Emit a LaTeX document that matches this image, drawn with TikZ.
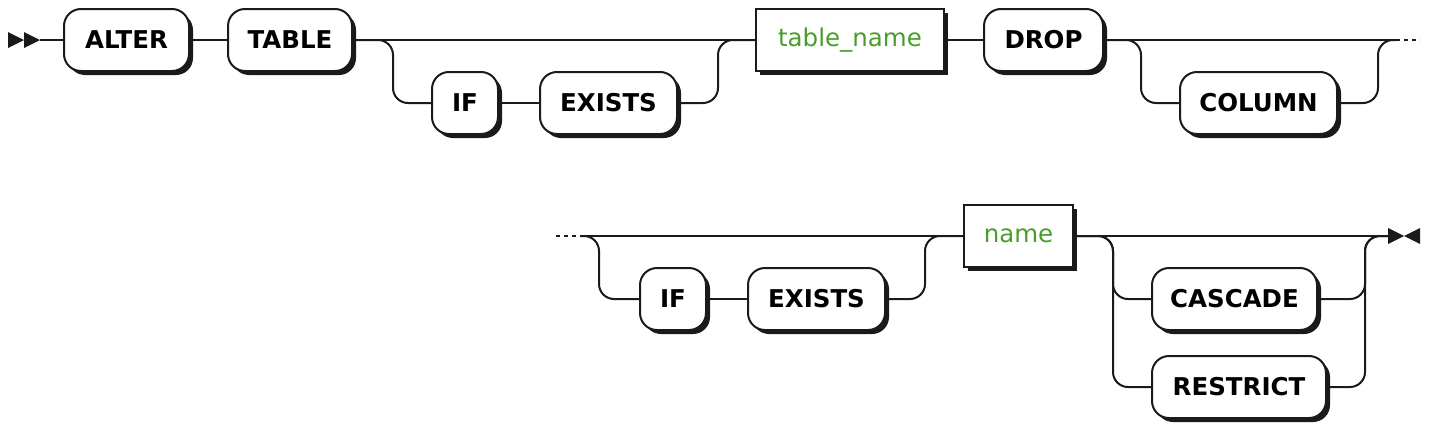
\documentclass[tikz,border=0pt]{standalone}
\usepackage{fontspec}
\setsansfont{DejaVu Sans}
\usetikzlibrary{shadows}
\definecolor{ntgreen}{RGB}{74,157,42}
\definecolor{ink}{RGB}{26,26,26}
\tikzset{
  box/.style={draw=ink,line width=2pt,fill=white,minimum height=62pt,inner sep=0pt,
    font=\sffamily\fontsize{24.5}{29}\selectfont,
    drop shadow={shadow xshift=4pt,shadow yshift=-4pt,opacity=1,fill=ink}},
  kw/.style={box,rounded corners=17pt,font=\sffamily\bfseries\fontsize{24.5}{29}\selectfont},
  nt/.style={box,text=ntgreen},
  rail/.style={draw=ink,line width=2pt,rounded corners=15pt},
  dots/.style={draw=ink,line width=2pt,dash pattern=on 4pt off 4pt}
}
\begin{document}
\begin{tikzpicture}[x=1pt,y=-1pt]
   \useasboundingbox (0,0) rectangle (1432,434);
   \foreach \n/\t/\x/\y/\w in {alter/ALTER/126.5/40/125, table/TABLE/290/40/124,
       if1/IF/465/103/66, exists1/EXISTS/608.5/103/137, drop/DROP/1043.5/40/119,
       column/COLUMN/1258.5/103/157, if2/IF/673/299/66, exists2/EXISTS/816.5/299/137,
       cascade/CASCADE/1234.5/299/165, restrict/RESTRICT/1239/387/174}
     \node[kw,minimum width=\w pt] (\n) at (\x,\y) {\t};
   \node[nt,minimum width=188pt] (tname) at (850,40) {table\_name};
   \node[nt,minimum width=109pt] (name) at (1018.5,236) {name};
   \coordinate (start) at (40,40);
   \coordinate (cont1) at (1396,40);
   \coordinate (cont2) at (580,236);
   \coordinate (stop) at (1388,236);
   \fill[ink] (8,32) -- (24,40) -- (8,48) -- cycle (24,32) -- (start) -- (24,48) -- cycle;
   \fill[ink] (stop) ++(0,-8) -- ++(16,8) -- ++(-16,8) -- cycle;
   \fill[ink] (1404,236) -- (1420,228) -- (1420,244) -- cycle;
   \draw[rail] (start) -- (alter);
   \draw[rail] (alter) -- (table);
   \draw[rail] (table.east) -- (tname.west);
   \draw[rail] (table.east) -- ++(40,0) |- (if1.west);
   \draw[rail] (if1) -- (exists1);
   \draw[rail] (exists1.east) -- ++(40,0) |- (tname.west);
   \draw[rail] (tname) -- (drop);
   \draw[rail] (drop.east) -- (cont1);
   \draw[rail] (drop.east) -- ++(37,0) |- (column.west);
   \draw[rail] (column.east) -- ++(40,0) |- (cont1);
   \draw[dots] (cont1) -- ++(24,0);
   \draw[dots] (556,236) -- (cont2);
   \draw[rail] (cont2) -- (name.west);
   \draw[rail] (cont2) -- ++(19,0) |- (if2.west);
   \draw[rail] (if2) -- (exists2);
   \draw[rail] (exists2.east) -- ++(39,0) |- (name.west);
   \draw[rail] (name.east) -- (stop);
   \draw[rail] (name.east) -- ++(39,0) |- (cascade.west);
   \draw[rail] (name.east) -- ++(39,0) |- (restrict.west);
   \draw[rail] (cascade.east) -- ++(47,0) |- (stop);
   \draw[rail] (restrict.east) -- ++(38,0) |- (stop);
\end{tikzpicture}
\end{document}
